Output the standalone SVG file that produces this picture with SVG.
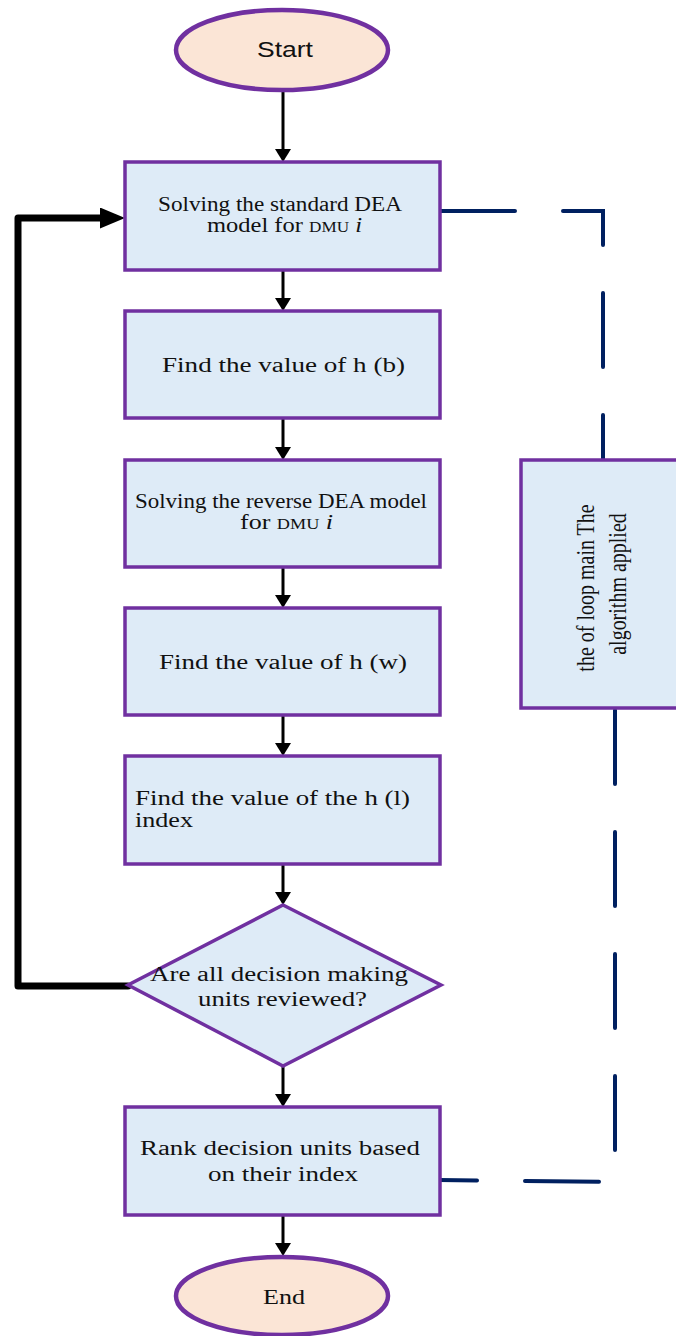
<svg xmlns="http://www.w3.org/2000/svg" width="676" height="1336" viewBox="0 0 676 1336">
<style>
.box{fill:#DEEBF7;stroke:#7030A0;stroke-width:3.5}
.term{fill:#FBE5D6;stroke:#7030A0;stroke-width:4.5}
.t{font-family:"Liberation Serif","Times New Roman",serif;fill:#111;font-size:20px}
.s{font-family:"Liberation Sans",Arial,sans-serif;fill:#111;font-size:22px}
.flow{fill:none;stroke:#000;stroke-width:3}
.loop{fill:none;stroke:#000;stroke-width:7;stroke-linejoin:round;stroke-linecap:round}
.dash{fill:none;stroke:#002060;stroke-width:4;stroke-linecap:round;stroke-dasharray:74 48}
</style>
<defs>
<marker id="ah" markerUnits="userSpaceOnUse" markerWidth="13" markerHeight="16" refX="8" refY="8" orient="auto">
<path d="M0,0 L13,8 L0,16 z" fill="#000"/>
</marker>
<marker id="ahb" markerUnits="userSpaceOnUse" markerWidth="25" markerHeight="21" refX="10" refY="10.5" orient="auto">
<path d="M0,0 L25,10.5 L0,21 z" fill="#000"/>
</marker>
</defs>

<g id="connectors">
<line class="flow" x1="283" y1="90" x2="283" y2="157" marker-end="url(#ah)"/>
<line class="flow" x1="283" y1="270" x2="283" y2="306" marker-end="url(#ah)"/>
<line class="flow" x1="283" y1="418" x2="283" y2="455" marker-end="url(#ah)"/>
<line class="flow" x1="283" y1="567" x2="283" y2="603" marker-end="url(#ah)"/>
<line class="flow" x1="283" y1="715" x2="283" y2="751" marker-end="url(#ah)"/>
<line class="flow" x1="283" y1="864" x2="283" y2="900" marker-end="url(#ah)"/>
<line class="flow" x1="283" y1="1066" x2="283" y2="1102" marker-end="url(#ah)"/>
<line class="flow" x1="283" y1="1215" x2="283" y2="1251" marker-end="url(#ah)"/>
<path class="loop" d="M128,986 H18 V218 H110" marker-end="url(#ahb)"/>
<path class="dash" d="M441,211 H603 V459"/>
<path class="dash" d="M615,710 V1182 L439,1180"/>
</g>

<g id="start">
<ellipse class="term" cx="282" cy="50" rx="106" ry="40"/>
<text class="s" x="257" y="57" textLength="56" lengthAdjust="spacingAndGlyphs">Start</text>
</g>

<g id="solve-standard">
<rect class="box" x="125" y="162" width="315" height="108"/>
<text class="t" x="158" y="211" font-size="18" textLength="244" lengthAdjust="spacingAndGlyphs">Solving the standard DEA</text>
<text class="t" x="207" y="232" font-size="18" textLength="155" lengthAdjust="spacingAndGlyphs">model for <tspan font-size="14">DMU</tspan> <tspan font-style="italic">i</tspan></text>
</g>

<g id="find-hb">
<rect class="box" x="125" y="311" width="315" height="107"/>
<text class="t" x="162" y="372" font-size="21" textLength="243" lengthAdjust="spacingAndGlyphs">Find the value of h (b)</text>
</g>

<g id="solve-reverse">
<rect class="box" x="125" y="460" width="315" height="107"/>
<text class="t" x="135" y="508" font-size="18" textLength="292" lengthAdjust="spacingAndGlyphs">Solving the reverse DEA model</text>
<text class="t" x="240" y="529" font-size="18" textLength="93" lengthAdjust="spacingAndGlyphs">for <tspan font-size="14">DMU</tspan> <tspan font-style="italic">i</tspan></text>
</g>

<g id="find-hw">
<rect class="box" x="125" y="608" width="315" height="107"/>
<text class="t" x="159" y="669" font-size="21" textLength="248" lengthAdjust="spacingAndGlyphs">Find the value of h (w)</text>
</g>

<g id="find-hl">
<rect class="box" x="125" y="756" width="315" height="108"/>
<text class="t" x="135" y="805" textLength="275" lengthAdjust="spacingAndGlyphs">Find the value of the h (l)</text>
<text class="t" x="135" y="827" textLength="58" lengthAdjust="spacingAndGlyphs">index</text>
</g>

<g id="decision">
<polygon class="box" points="283,905 441,985 283,1066 128,985"/>
<text class="t" x="150" y="981" textLength="258" lengthAdjust="spacingAndGlyphs">Are all decision making</text>
<text class="t" x="198" y="1006" textLength="169" lengthAdjust="spacingAndGlyphs">units reviewed?</text>
</g>

<g id="rank">
<rect class="box" x="125" y="1107" width="315" height="108"/>
<text class="t" x="140" y="1155" textLength="280" lengthAdjust="spacingAndGlyphs">Rank decision units based</text>
<text class="t" x="208" y="1181" textLength="150" lengthAdjust="spacingAndGlyphs">on their index</text>
</g>

<g id="end">
<ellipse class="term" cx="282" cy="1296" rx="106" ry="39"/>
<text class="t" x="263" y="1304" font-size="22" textLength="42" lengthAdjust="spacingAndGlyphs">End</text>
</g>

<g id="loop-note">
<rect class="box" x="521" y="460" width="170" height="248"/>
<text class="t" transform="translate(594,588) rotate(-90) scale(1,1.3)" text-anchor="middle">the of loop main The</text>
<text class="t" transform="translate(626,584) rotate(-90) scale(1,1.3)" text-anchor="middle">algorithm applied</text>
</g>
</svg>
